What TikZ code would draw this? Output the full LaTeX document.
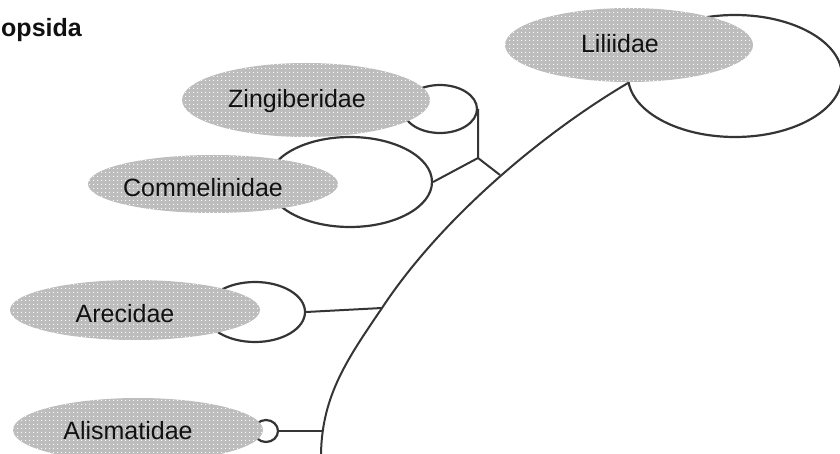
\documentclass[tikz,border=0pt]{standalone}
\usepackage{fontspec}
\setmainfont{Liberation Sans}
\usetikzlibrary{shapes.geometric,patterns.meta}
\definecolor{blobgray}{HTML}{BDBDBD}
\definecolor{linec}{HTML}{353535}
\definecolor{textc}{HTML}{111111}
\tikzdeclarepattern{
  name=wdots,
  type=uncolored,
  bounding box={(0pt,0pt) and (4pt,4pt)},
  tile size={(4pt,4pt)},
  code={\fill (2pt,2pt) circle (0.7pt);}
}
\tikzset{
  blob/.style={ellipse, inner sep=0pt, preaction={fill=blobgray}, pattern={wdots}, pattern color=white},
  oval/.style={ellipse, inner sep=0pt, draw=linec, line width=2.2pt},
  branch/.style={draw=linec, line width=2pt},
  lbl/.style={font=\fontsize{25}{30}\selectfont, inner sep=0pt, anchor=base, text=textc},
}
\begin{document}
\begin{tikzpicture}[x=1pt,y=-1pt]
\useasboundingbox (0,0) rectangle (840,454);
% open ovals
\node[oval, minimum width=214pt, minimum height=122pt] (lilO) at (735,76) {};
\node[oval, minimum width=74pt, minimum height=48pt] (zinO) at (440,109) {};
\node[oval, minimum width=164pt, minimum height=90pt] (comO) at (350,182) {};
\node[oval, minimum width=100pt, minimum height=60pt] (areO) at (255,312) {};
\node[oval, minimum width=24pt, minimum height=22pt] (aliO) at (266,431) {};
% junction points
\coordinate (top) at (628,83);
\coordinate (jz) at (478,158);
\coordinate (pz) at (500,175);
\coordinate (pa) at (382,308);
\coordinate (pb) at (321,454);
\coordinate (pc) at (322,431);
% main stem
\draw[branch] (top) .. controls (540,135) and (440,220) .. (pa)
  .. controls (348,358) and (322,395) .. (pb);
% side branches
\draw[branch] (zinO.east) -- (jz);
\draw[branch] (comO.east) -- (jz) -- (pz);
\draw[branch] (areO.east) -- (pa);
\draw[branch] (aliO.east) -- (pc);
% grey labels
\node[blob, minimum width=248pt, minimum height=74pt] (lil) at (629,45) {};
\node[blob, minimum width=248pt, minimum height=74pt] (zin) at (306,100) {};
\node[blob, minimum width=250pt, minimum height=58pt] (com) at (213,184) {};
\node[blob, minimum width=250pt, minimum height=60pt] (are) at (135,310) {};
\node[blob, minimum width=250pt, minimum height=64pt] (ali) at (138,430) {};
\node[lbl] (lilT) at (620,53) {Liliidae};
\node[lbl] (zinT) at (297,108) {Zingiberidae};
\node[lbl] (comT) at (203,197) {Commelinidae};
\node[lbl] (areT) at (125,322) {Arecidae};
\node[lbl] (aliT) at (128,439) {Alismatidae};
\node[lbl, anchor=base west, font=\fontsize{25}{30}\selectfont\bfseries] (title) at (1,37) {opsida};
\end{tikzpicture}
\end{document}
